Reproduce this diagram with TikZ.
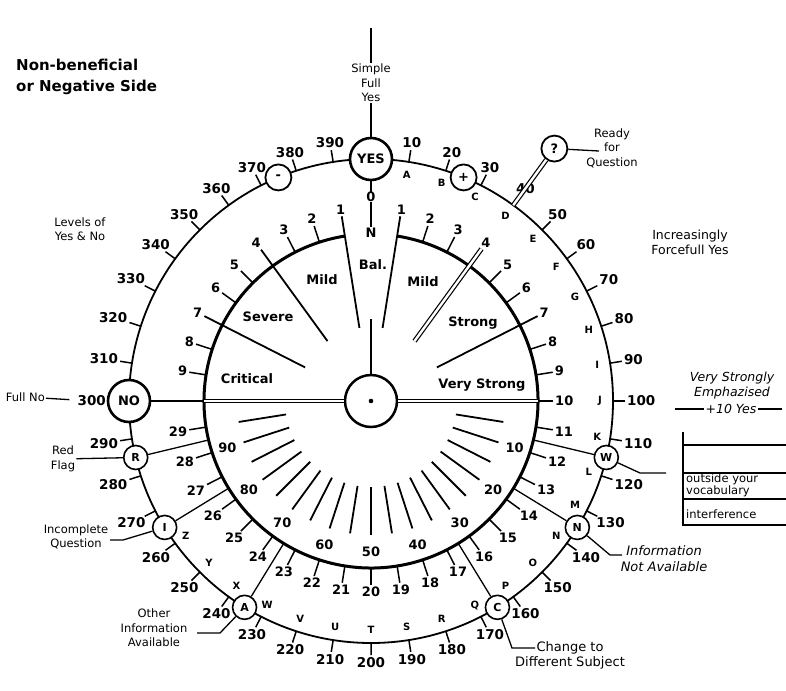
\documentclass[tikz,border=0pt]{standalone}
\usepackage{fontspec}
\setmainfont{DejaVu Sans}
\usetikzlibrary{calc}
\begin{document}
\begin{tikzpicture}[x=1pt,y=-1pt,
  every node/.style={inner sep=1pt},
  outerring/.style={line width=1.8pt},
  innerring/.style={line width=3pt},
  tickline/.style={line width=1.5pt},
  spoke/.style={line width=1.8pt},
  dbl/.style={double, double distance=2.4pt, line width=1.2pt},
  onum/.style={font=\fontsize{13.5}{13.5}\selectfont\bfseries},
  inum/.style={font=\fontsize{13}{13}\selectfont\bfseries},
  letr/.style={font=\fontsize{10}{10}\selectfont\bfseries},
  bigc/.style={circle, draw, fill=white, line width=2.6pt, minimum size=42pt, inner sep=0pt, font=\fontsize{13}{13}\selectfont\bfseries},
  smallc/.style={circle, draw, fill=white, line width=1.6pt, minimum size=24pt, inner sep=0pt, font=\fontsize{11}{11}\selectfont\bfseries},
  signc/.style={circle, draw, fill=white, line width=1.8pt, minimum size=26pt, inner sep=0pt, font=\fontsize{13}{13}\selectfont\bfseries},
  note/.style={font=\fontsize{11.5}{14.5}\selectfont, align=center},
  inote/.style={font=\fontsize{12.5}{15}\selectfont\itshape, align=center},
  sector/.style={font=\fontsize{13}{13}\selectfont\bfseries},
  legtext/.style={anchor=west, align=left, font=\fontsize{11.5}{12.5}\selectfont},
  conn/.style={line width=1.3pt},
]
\useasboundingbox (0,0) rectangle (786,690);
\fill[white] (0,0) rectangle (786,690);
\begin{scope}[shift={(371,401)}]
  % outer ring
  \draw[outerring] (0,0) circle[radius=242];
  \foreach \v in {10,20,30,50,60,...,290,310,320,...,390}{
    \pgfmathsetmacro\t{-90+0.9*\v}
    \draw[tickline] (\t:242) -- (\t:254);
  }
  \foreach \v in {10,20,...,290,310,320,...,390}{
    \pgfmathsetmacro\t{-90+0.9*\v}
    \pgfmathsetmacro\a{270-0.9*\v}
    \node[onum, anchor=\a] (o\v) at (\t:255) {\v};
  }
  \node[onum, anchor=east] (o300) at (180:264) {300};
  \foreach \lt [count=\i] in {A,B,C,D,E,F,G,H,I,J,K,L,M,N,O,P,Q,R,S,T,U,V,W,X,Y,Z}{
    \pgfmathsetmacro\t{-90+9*\i}
    \node[letr] (L\lt) at (\t:229) {\lt};
  }
  % inner ring
  \draw[innerring] (-81:167) arc[start angle=-81, end angle=261, radius=167];
  \foreach \n in {2,3,5,6,8,9}{
    \pgfmathsetmacro\tr{-90+9*\n}
    \pgfmathsetmacro\ar{270-9*\n}
    \pgfmathsetmacro\tl{-90-9*\n}
    \pgfmathsetmacro\al{270+9*\n}
    \draw[tickline] (\tr:167) -- (\tr:184);
    \node[inum, anchor=\ar] (ur\n) at (\tr:185) {\n};
    \draw[tickline] (\tl:167) -- (\tl:184);
    \node[inum, anchor=\al] (ul\n) at (\tl:185) {\n};
  }
  \foreach \n in {1,4,7}{
    \pgfmathsetmacro\tr{-90+9*\n}
    \pgfmathsetmacro\ar{270-9*\n}
    \pgfmathsetmacro\tl{-90-9*\n}
    \pgfmathsetmacro\al{270+9*\n}
    \ifnum\n=4
      \draw[dbl] (\tr:74) -- (\tr:188);
    \else
      \draw[spoke] (\tr:74) -- (\tr:187);
    \fi
    \node[inum, anchor=\ar] (ur\n) at (\tr:188) {\n};
    \draw[spoke] (\tl:74) -- (\tl:187);
    \node[inum, anchor=\al] (ul\n) at (\tl:188) {\n};
  }
  \draw[tickline] (0:167) -- (0:182);
  \node[inum, anchor=180] (ur10) at (0:183) {10};
  \foreach \n in {11,...,29}{
    \pgfmathsetmacro\t{-90+9*\n}
    \pgfmathsetmacro\a{270-9*\n}
    \draw[tickline] (\t:167) -- (\t:184);
    \node[inum, anchor=\a] (lo\n) at (\t:185) {\n};
  }
  % lower spokes
  \foreach \u in {5,10,...,95}{
    \pgfmathsetmacro\t{1.8*\u}
    \draw[spoke] (\t:86) -- (\t:134);
  }
  \foreach \u in {10,20,...,90}{
    \pgfmathsetmacro\t{1.8*\u}
    \node[inum] (sp\u) at (\t:151) {\u};
  }
  % centre
  \node[circle, draw, line width=2.5pt, minimum size=52pt, fill=white] (ctr) at (0,0) {};
  \fill (0,0) circle[radius=2.3];
  \draw[dbl] (180:167) -- (ctr);
  \draw[dbl] (ctr) -- (0:167);
  \draw[line width=2.6pt] (ctr) -- (-90:82);
  % special markers
  \node[bigc] (yes) at (-90:242) {YES};
  \node[bigc] (no) at (180:242) {NO};
  \draw[conn] (no) -- (180:167);
  \node[signc] (minus) at (247.5:242) {-};
  \node[signc] (plus) at (-67.5:242) {+};
  \node[signc] (qm) at (-54:312) {?};
  \draw[dbl] (-54:242) -- (qm);
  \foreach \nm/\t in {W/13.5, N/31.5, C/58.5, A/121.5, I/148.5, R/166.5}{
    \node[smallc] (c\nm) at (\t:242) {\nm};
    \draw[conn] (c\nm) -- (\t:167);
  }
  \node[inum] (nlab) at (-90:168) {N};
  \draw[conn] (yes) -- (nlab);
  \node[inum, fill=white, inner sep=0.3pt] (zero) at (-90:204) {0};
\end{scope}
% sector names
\node[sector] (bal) at (373,265) {Bal.};
\node[sector] (mildl) at (322,280) {Mild};
\node[sector] (mildr) at (423,282) {Mild};
\node[sector] (severe) at (268,317) {Severe};
\node[sector] (strong) at (473,323) {Strong};
\node[sector] (critical) at (247,379) {Critical};
\node[sector] (vstrong) at (482,385) {Very Strong};
% notes and connectors
\node[note] (simple) at (371,83) {Simple\\Full\\Yes};
\coordinate (ytop) at (371,28);
\draw[conn] (ytop) -- (simple);
\draw[conn] (simple) -- (yes);
\node[note, anchor=east] (fullno) at (46,397) {Full No};
\draw[conn, shorten >=7pt] (fullno) -- (o300);
\node[note] (levels) at (80,229) {Levels of\\Yes \& No};
\node[font=\fontsize{15}{21}\selectfont\bfseries, align=left, anchor=west] (head) at (15,77) {Non-beneficial\\or Negative Side};
\node[note] (ready) at (612,148) {Ready\\for\\Question};
\coordinate (rq) at (599,151);
\draw[conn] (qm) -- (rq);
\node[note, font=\fontsize{12.5}{15}\selectfont] (incr) at (690,242) {Increasingly\\Forcefull Yes};
\node[inote] (vs1) at (732,378) {Very Strongly};
\node[inote] (vs2) at (732,393) {Emphazised};
\node[inote] (vs3) at (731,409) {+10 Yes};
\coordinate (vsl) at (675,409);
\coordinate (vsr) at (782,409);
\draw[conn] (vsl) -- (vs3);
\draw[conn] (vs3) -- (vsr);
% legend table
\draw[line width=1.5pt] (683,432) -- (683,526);
\foreach \y in {445,473,499,525}{\draw[line width=1.5pt] (683,\y) -- (786,\y);}
\node[legtext] (lg1) at (685,485.5) {outside your\\vocabulary};
\node[legtext] (lg3) at (685,514) {interference};
% side notes of markers
\node[note] (redflag) at (63,459) {Red\\Flag};
\draw[conn] (cR) -- (redflag);
\node[note] (incq) at (76,537) {Incomplete\\Question};
\coordinate (iq1) at (123,540);
\coordinate (iq2) at (110,540);
\draw[conn] (cI) -- (iq1) -- (iq2);
\node[note] (oth) at (154,628) {Other\\Information\\Available};
\coordinate (oa1) at (220,633);
\coordinate (oa2) at (197,633);
\draw[conn] (cA) -- (oa1) -- (oa2);
\node[note, font=\fontsize{13}{15}\selectfont] (chg) at (570,655) {Change to\\Different Subject};
\coordinate (cs1) at (512,648);
\coordinate (cs2) at (535,648);
\draw[conn] (cC) -- (cs1) -- (cs2);
\node[inote, font=\fontsize{13}{16}\selectfont\itshape] (ina) at (664,559) {Information\\Not Available};
\coordinate (na1) at (610,555);
\coordinate (na2) at (622,555);
\draw[conn] (cN) -- (na1) -- (na2);
\coordinate (w1) at (640,473);
\coordinate (w2) at (666,473);
\draw[conn] (cW) -- (w1) -- (w2);
\end{tikzpicture}
\end{document}
